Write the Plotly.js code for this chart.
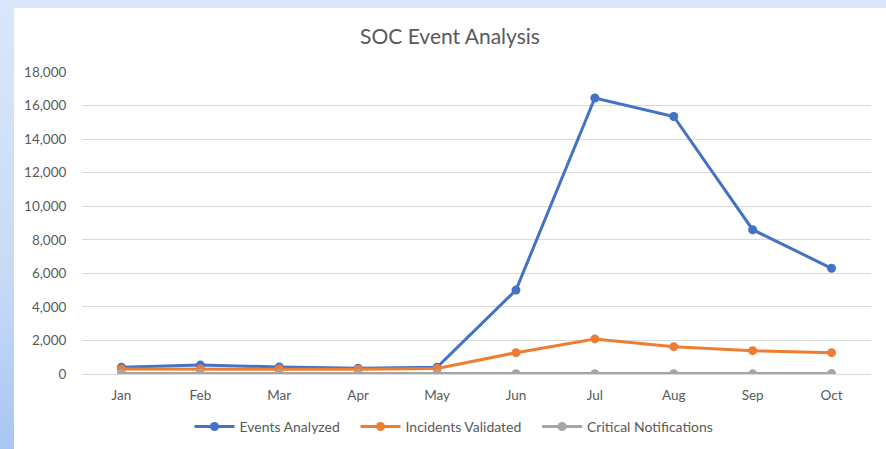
<!DOCTYPE html>
<html>
<head>
<meta charset="utf-8">
<script src="https://cdn.plot.ly/plotly-3.0.1.min.js"></script>
<style>
  html, body { margin: 0; padding: 0; width: 886px; height: 449px; overflow: hidden;
    background: linear-gradient(to bottom, #d9e7fb 0%, #c7dbf7 60%, #a8c6f3 100%); }
  #chart { position: absolute; left: 14px; top: 8px; width: 872px; height: 441px; background: #fff; }
</style>
</head>
<body>
<div id="chart"></div>
<script>
const months = ["Jan","Feb","Mar","Apr","May","Jun","Jul","Aug","Sep","Oct"];
const seriesNames = ["Events Analyzed", "Incidents Validated", "Critical Notifications"];
const eventsAnalyzed = [400, 530, 420, 340, 400, 5000, 16450, 15350, 8600, 6300];
const incidentsValidated = [300, 300, 300, 280, 330, 1270, 2090, 1630, 1390, 1270];
const criticalNotifications = [30, 25, 20, 20, 15, 15, 20, 20, 10, 25];
const yTicks = [0, 2000, 4000, 6000, 8000, 10000, 12000, 14000, 16000, 18000];

const font = "Lato, 'Open Sans', sans-serif";
const pad = "\u00a0\u00a0\u00a0";
function series(name, y, color) {
  return {
    type: "scatter", mode: "lines+markers", name: name, x: months, y: y,
    line: { color: color, width: 3 },
    marker: { color: color, size: 9 }
  };
}
const data = [
  series(seriesNames[0] + pad, eventsAnalyzed, "#4472c4"),
  series(seriesNames[1] + pad, incidentsValidated, "#ed7d31"),
  series(seriesNames[2], criticalNotifications, "#a5a5a5")
];
const layout = {
  width: 872, height: 441,
  margin: { l: 68, r: 15, t: 64, b: 75 },
  paper_bgcolor: "#ffffff", plot_bgcolor: "#ffffff",
  font: { family: font, color: "#595959", size: 13.5 },
  title: { text: "SOC Event Analysis", font: { family: font, size: 21, color: "#595959" },
           x: 0.5, xref: "container", y: 0.935, yref: "container", yanchor: "middle" },
  showlegend: true,
  legend: { orientation: "h", x: 0.5046, xref: "container", xanchor: "center",
            y: 0.05, yref: "container", yanchor: "middle",
            font: { family: font, size: 14, color: "#595959" }, itemwidth: 40, traceorder: "normal" },
  xaxis: { type: "category", range: [-0.5, 9.5], showgrid: false, zeroline: false, showline: false,
           ticks: "outside", ticklen: 9, tickcolor: "rgba(0,0,0,0)",
           tickfont: { family: font, size: 13.5, color: "#595959" }, fixedrange: true },
  yaxis: { range: [0, 18000], tickvals: yTicks, tickformat: ",d",
           showgrid: true, gridcolor: "#d9d9d9", gridwidth: 1,
           zeroline: true, zerolinecolor: "#d9d9d9", zerolinewidth: 1, showline: false,
           ticks: "outside", ticklen: 12, tickcolor: "rgba(0,0,0,0)",
           tickfont: { family: font, size: 13.5, color: "#595959" }, fixedrange: true },
  hovermode: false
};
Plotly.newPlot("chart", data, layout, { displayModeBar: false, staticPlot: true });
</script>
</body>
</html>
